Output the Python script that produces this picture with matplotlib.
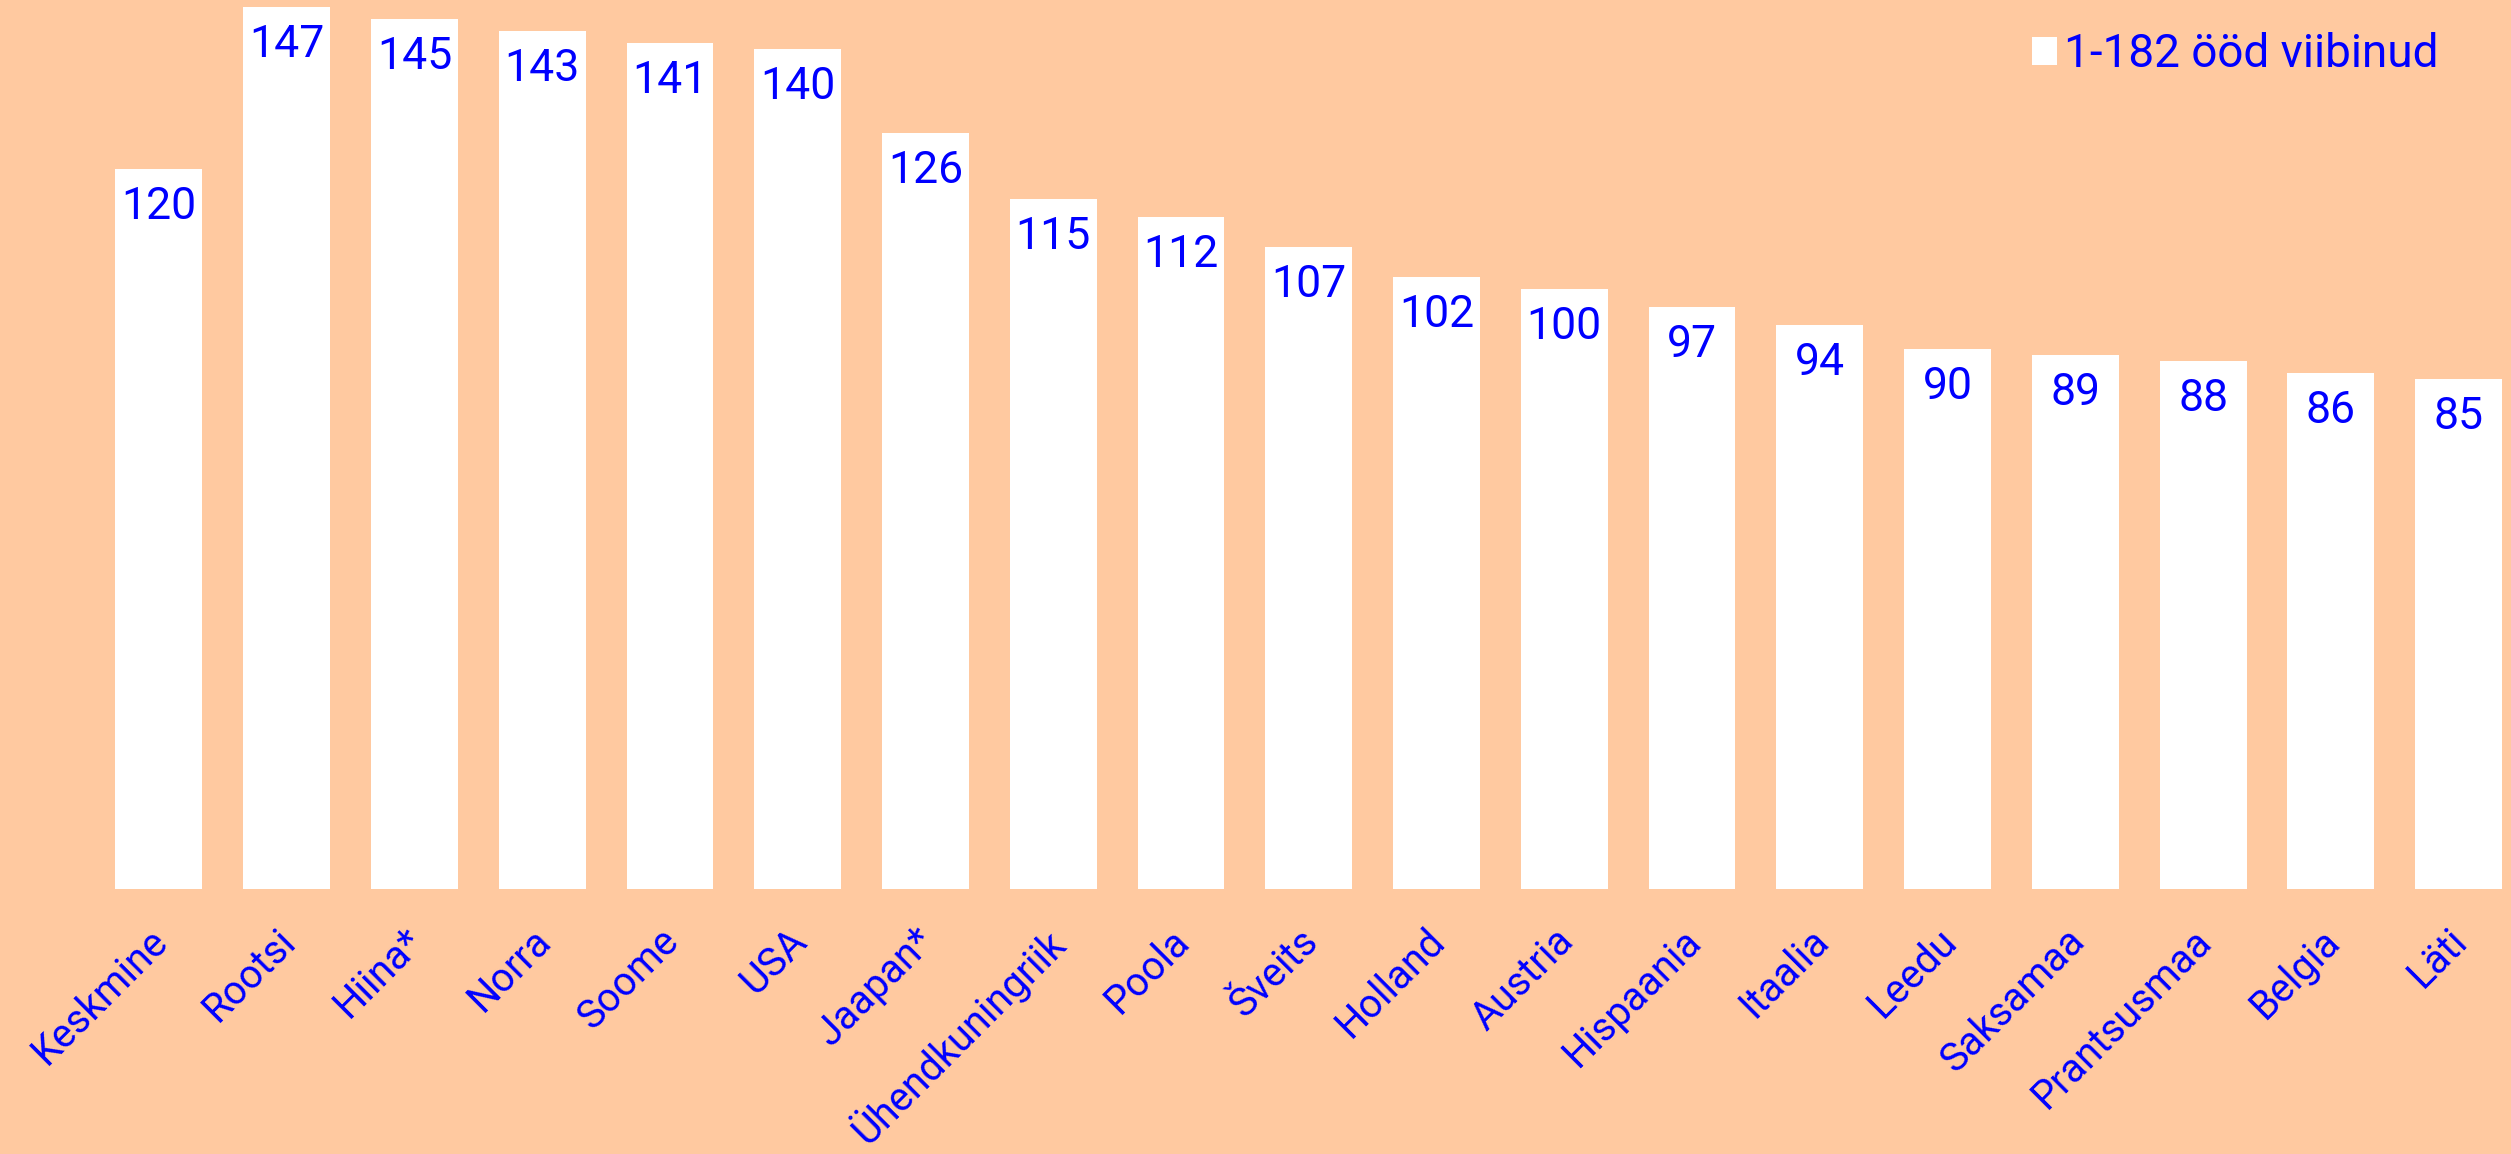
import matplotlib.pyplot as plt
import matplotlib.transforms as mtransforms

# data
countries = ['Keskmine', 'Rootsi', 'Hiina*', 'Norra', 'Soome', 'USA', 'Jaapan*',
             'Ühendkuningriik', 'Poola', 'Šveits', 'Holland', 'Austria', 'Hispaania',
             'Itaalia', 'Leedu', 'Saksamaa', 'Prantsusmaa', 'Belgia', 'Läti']
nights = [120, 147, 145, 143, 141, 140, 126, 115, 112, 107, 102, 100, 97, 94, 90, 89, 88, 86, 85]
series_name = '1-182 ööd viibinud'

bg = '#FFC9A0'
blue = '#0000FF'

plt.rcParams['font.family'] = ['Roboto', 'DejaVu Sans']

fig = plt.figure(figsize=(25.11, 11.54), dpi=100, facecolor=bg)
ax = fig.add_axes([0, 0.2296, 1, 0.7704])
ax.set_facecolor(bg)

x = list(range(len(countries)))
bars = ax.bar(x, nights, width=0.68, color='white', label=series_name)

for xi, v in zip(x, nights):
    ax.annotate(str(v), (xi, v), xytext=(0, -12), textcoords='offset points',
                ha='center', va='top', fontsize=32, color=blue)

ax.set_xlim(-1.244, 18.41)
ax.set_ylim(0, 148.2)
ax.set_xticks(x)
ax.set_xticklabels(countries, rotation=45, ha='right', rotation_mode='anchor',
                   fontsize=28.5, color=blue)
ax.tick_params(axis='x', length=0, pad=23)
offset = mtransforms.ScaledTranslation(-8 / 72, 0, fig.dpi_scale_trans)
for lbl in ax.get_xticklabels():
    lbl.set_transform(lbl.get_transform() + offset)
ax.set_yticks([])
for s in ax.spines.values():
    s.set_visible(False)

leg = ax.legend(loc='upper right', bbox_to_anchor=(0.984, 1.0), frameon=False,
                fontsize=33, labelcolor=blue, handlelength=0.55, handleheight=0.55,
                handletextpad=0.15, borderaxespad=0.3)

fig.savefig('out.png', dpi=100, facecolor=bg)
